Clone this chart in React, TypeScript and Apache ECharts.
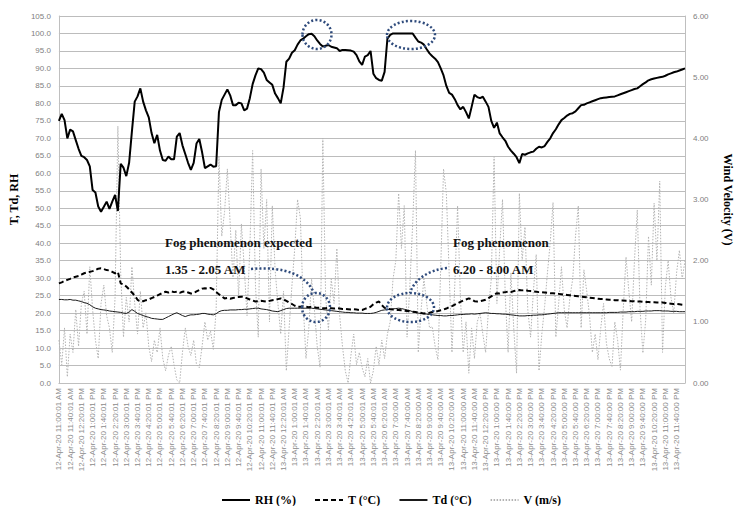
import { useEffect, useRef } from "react";
import * as echarts from "echarts";

// x-axis tick labels (one every 40 minutes); data is sampled every 10 minutes
const TICK_LABELS = [
  "12-Apr-20 11:00:01 AM", "12-Apr-20 11:40:01 AM", "12-Apr-20 12:20:01 PM", "12-Apr-20 1:00:01 PM",
  "12-Apr-20 1:40:01 PM", "12-Apr-20 2:20:01 PM", "12-Apr-20 3:00:01 PM", "12-Apr-20 3:40:01 PM",
  "12-Apr-20 4:20:01 PM", "12-Apr-20 5:00:01 PM", "12-Apr-20 5:40:01 PM", "12-Apr-20 6:20:01 PM",
  "12-Apr-20 7:00:01 PM", "12-Apr-20 7:40:01 PM", "12-Apr-20 8:20:01 PM", "12-Apr-20 9:00:01 PM",
  "12-Apr-20 9:40:01 PM", "12-Apr-20 10:20:01 PM", "12-Apr-20 11:00:01 PM", "12-Apr-20 11:40:01 PM",
  "13-Apr-20 12:20:01 AM", "13-Apr-20 1:00:01 AM", "13-Apr-20 1:40:01 AM", "13-Apr-20 2:20:01 AM",
  "13-Apr-20 3:00:01 AM", "13-Apr-20 3:40:01 AM", "13-Apr-20 4:20:01 AM", "13-Apr-20 5:00:01 AM",
  "13-Apr-20 5:40:01 AM", "13-Apr-20 6:20:01 AM", "13-Apr-20 7:00:00 AM", "13-Apr-20 7:40:00 AM",
  "13-Apr-20 8:20:00 AM", "13-Apr-20 9:00:00 AM", "13-Apr-20 9:40:00 AM", "13-Apr-20 10:20:00 AM",
  "13-Apr-20 11:00:00 AM", "13-Apr-20 11:40:00 AM", "13-Apr-20 12:20:00 PM", "13-Apr-20 1:00:00 PM",
  "13-Apr-20 1:40:00 PM", "13-Apr-20 2:20:00 PM", "13-Apr-20 3:00:00 PM", "13-Apr-20 3:40:00 PM",
  "13-Apr-20 4:20:00 PM", "13-Apr-20 5:00:00 PM", "13-Apr-20 5:40:00 PM", "13-Apr-20 6:20:00 PM",
  "13-Apr-20 7:00:00 PM", "13-Apr-20 7:40:00 PM", "13-Apr-20 8:20:00 PM", "13-Apr-20 9:00:00 PM",
  "13-Apr-20 9:40:00 PM", "13-Apr-20 10:20:00 PM", "13-Apr-20 11:00:00 PM", "13-Apr-20 11:40:00 PM",
];

const RH = [
  75, 77, 75.2, 70, 72.5, 72, 69.5, 67, 65, 64.6,
  63.8, 62, 55.2, 54.5, 50.5, 49, 50.4, 51.9, 49.8, 51.9,
  53.8, 49.2, 62.7, 61.6, 59.2, 63, 72, 80.5, 82, 84.3,
  80.5, 78, 76, 71.5, 68.6, 71, 66.5, 63.8, 63.6, 64.8,
  64, 64, 70.5, 71.5, 68, 65.5, 63, 61, 63, 68.5,
  69.8, 66, 61.5, 62, 62.5, 61.9, 62, 77.5, 81, 82.5,
  84, 82.3, 79.5, 79.5, 80.2, 80, 78, 78.5, 81.5, 85.5,
  88, 90, 89.8, 88.8, 86.7, 86, 85.3, 82.8, 81.5, 80,
  84.5, 91.9, 92.8, 94.5, 95.2, 96.8, 98, 98.5, 99.2, 99.8,
  99.9, 99.2, 98, 97, 96.3, 96.5, 96.7, 96.2, 96, 95.8,
  95, 95.3, 95.3, 95.2, 95.1, 94.8, 93.8, 92, 91, 93.4,
  93.8, 95, 88.5, 87.2, 86.7, 86.5, 89, 98.5, 99.6, 100,
  100, 100, 100, 100, 100, 100, 100, 98.8, 97.7, 97.4,
  96.8, 95.5, 94.3, 93.5, 92.8, 91.8, 90, 88, 85, 83,
  82.5, 81.2, 79.5, 78.3, 79, 77.5, 75.7, 79, 82.5, 81.8,
  81.5, 81.9, 80.5, 79, 75, 73, 74.5, 71.4, 70.3, 69.3,
  67.6, 66.5, 65.6, 64.6, 62.9, 65.5, 65.3, 65.7, 66, 66.2,
  67, 67.6, 67.4, 67.8, 69, 70, 71.5, 72.6, 74, 75.2,
  75.8, 76.5, 77, 77.2, 77.7, 78.6, 79.5, 79.6, 80, 80.3,
  80.6, 80.9, 81.2, 81.5, 81.6, 81.7, 81.8, 81.9, 82, 82.3,
  82.6, 82.9, 83.2, 83.5, 83.8, 84.1, 84.3, 84.9, 85.5, 86,
  86.6, 86.9, 87.1, 87.3, 87.5, 87.6, 87.9, 88.3, 88.6, 88.9,
  89.1, 89.4, 89.7, 90,
];

const T = [
  28.5, 28.8, 29.2, 29.5, 29.8, 30.2, 30.4, 30.6, 31.0, 31.4,
  31.6, 31.8, 32.0, 32.3, 32.7, 32.8, 32.6, 32.3, 32.2, 31.8,
  31.4, 31.8, 28.5, 28.2, 27.6, 26.8, 25.9, 25.0, 23.8, 23.3,
  23.4, 23.7, 23.9, 24.3, 24.6, 25.0, 25.4, 25.8, 26.1, 25.9,
  26.2, 26.0, 26.1, 25.8, 26.1, 26.2, 25.9, 25.6, 25.7, 26.2,
  26.6, 27.0, 27.1, 27.0, 27.2, 26.8, 26.0, 25.4, 24.8, 24.2,
  24.3, 24.1, 24.3, 24.5, 24.6, 24.7, 24.6, 24.2, 23.9, 23.6,
  23.3, 23.4, 23.5, 23.4, 23.3, 23.5, 23.7, 23.8, 24.0, 24.2,
  23.9, 23.5, 23.0, 22.6, 22.1, 21.8, 21.8, 21.9, 21.8, 21.7,
  21.8, 21.7, 21.5, 21.5, 21.4, 21.4, 21.5, 21.4, 21.3, 21.4,
  21.3, 21.2, 21.2, 21.1, 21.0, 21.1, 21.0, 20.9, 20.9, 21.2,
  21.5, 21.8, 22.5, 23.0, 23.3, 22.3, 21.5, 21.3, 21.1, 21.0,
  20.9, 20.9, 20.8, 20.7, 20.6, 20.5, 20.4, 20.3, 20.1, 20.0,
  19.9, 20.0, 20.1, 20.3, 20.4, 20.6, 20.8, 21.0, 21.3, 21.7,
  22.0, 22.4, 22.8, 23.2, 23.6, 23.9, 24.2, 23.9, 23.4, 23.3,
  23.4, 23.6, 23.8, 24.3, 24.8, 25.3, 25.7, 25.6, 25.9, 26.0,
  26.1, 26.0, 26.3, 26.5, 26.6, 26.5, 26.6, 26.4, 26.3, 26.2,
  26.1, 26.0, 26.0, 25.9, 25.8, 25.7, 25.7, 25.6, 25.5, 25.4,
  25.3, 25.2, 25.1, 25.0, 24.9, 24.8, 24.7, 24.6, 24.5, 24.4,
  24.3, 24.2, 24.1, 24.0, 24.0, 23.9, 23.8, 23.8, 23.7, 23.7,
  23.6, 23.6, 23.5, 23.5, 23.4, 23.4, 23.3, 23.3, 23.2, 23.2,
  23.2, 23.1, 23.1, 23.0, 23.0, 23.0, 22.9, 22.8, 22.7, 22.6,
  22.6, 22.5, 22.4, 22.3,
];

const TD = [
  23.9, 23.9, 23.8, 23.8, 23.9, 23.7, 23.7, 23.5, 23.3, 23.0,
  22.8, 22.4, 21.8, 21.4, 21.2, 21.0, 20.9, 20.8, 20.6, 20.5,
  20.4, 20.3, 20.2, 20.0, 19.9, 20.3, 21.0, 20.5, 19.9, 19.6,
  19.3, 19.0, 18.8, 18.5, 18.4, 18.3, 18.2, 18.2, 18.6, 19.0,
  19.4, 19.8, 20.1, 19.7, 19.3, 19.0, 19.3, 19.5, 19.5, 19.6,
  19.7, 19.9, 19.9, 19.7, 19.6, 19.5, 19.8, 20.4, 20.7, 20.8,
  20.8, 20.9, 20.9, 20.9, 21.0, 21.0, 21.1, 21.1, 21.2, 21.3,
  21.4, 21.4, 21.2, 21.1, 21.0, 20.8, 20.6, 20.5, 20.4, 20.7,
  21.0, 21.3, 21.4, 21.4, 21.4, 21.4, 21.4, 21.4, 21.4, 21.4,
  21.4, 21.3, 21.2, 21.1, 21.0, 20.9, 20.8, 20.7, 20.6, 20.5,
  20.4, 20.3, 20.2, 20.2, 20.1, 20.1, 20.0, 20.0, 20.0, 19.9,
  19.9, 19.9, 20.0, 20.2, 20.5, 20.8, 20.9, 21.0, 21.1, 21.2,
  21.3, 21.4, 21.3, 21.1, 20.9, 20.7, 20.4, 20.2, 20.0, 19.9,
  19.8, 19.7, 19.6, 19.5, 19.4, 19.3, 19.3, 19.2, 19.2, 19.3,
  19.3, 19.4, 19.5, 19.6, 19.6, 19.7, 19.7, 19.8, 19.7, 19.8,
  19.9, 20.0, 20.1, 20.0, 19.9, 19.9, 19.8, 19.8, 19.7, 19.7,
  19.6, 19.5, 19.4, 19.3, 19.2, 19.2, 19.2, 19.3, 19.3, 19.4,
  19.4, 19.5, 19.5, 19.6, 19.7, 19.8, 19.9, 20.0, 20.1, 20.1,
  20.1, 20.1, 20.1, 20.1, 20.1, 20.1, 20.1, 20.1, 20.1, 20.1,
  20.1, 20.1, 20.1, 20.1, 20.1, 20.1, 20.2, 20.2, 20.2, 20.2,
  20.3, 20.3, 20.3, 20.4, 20.4, 20.4, 20.5, 20.5, 20.5, 20.6,
  20.6, 20.6, 20.7, 20.7, 20.7, 20.6, 20.6, 20.6, 20.5, 20.5,
  20.5, 20.4, 20.4, 20.4,
];

const V = [
  0.7, 0.3, 0.9, 0.1, 0.8, 0.5, 1.2, 0.6, 1.3, 1.5,
  0.8, 1.9, 1.2, 0.7, 0.4, 1.3, 1.6, 1.1, 0.9, 0.5,
  1.4, 4.2, 1.8, 0.75, 1.4, 1.0, 1.9, 1.3, 0.8, 1.5,
  0.9, 1.15, 0.6, 0.35, 0.7, 0.5, 0.9, 0.4, 0.2, 0.45,
  0.6, 0.3, 0.05, 0.0, 0.5, 0.9, 0.6, 0.45, 0.7, 0.3,
  0.25, 0.6, 1.0, 0.7, 0.85, 0.55, 1.2, 3.7, 2.4, 2.8,
  3.5, 2.6, 1.7, 2.5, 1.4, 2.6, 1.9, 1.1, 2.2, 3.8,
  1.6, 0.75, 3.5, 2.2, 3.0, 1.0, 2.9, 1.85, 1.3, 0.8,
  1.5, 0.2, 0.9, 1.6, 2.2, 3.0, 2.7, 1.3, 0.4, 0.9,
  1.7, 1.2, 0.6, 0.26, 4.0, 1.4, 0.87, 1.7, 1.3, 2.2,
  1.1, 0.6, 0.2, 0.0, 0.45, 0.8, 0.3, 0.5, 0.25, 0.1,
  0.4, 0.0, 0.2, 0.6, 0.3, 0.7, 0.4, 0.8, 1.0, 1.7,
  2.0, 3.1, 2.2, 2.9, 0.75, 1.6, 2.6, 3.8, 0.5, 1.2,
  1.7, 1.3, 0.9, 0.92, 0.6, 0.38, 1.9, 3.5, 3.1, 1.8,
  0.5, 1.6, 2.9, 1.4, 0.5, 1.0, 0.16, 0.9, 0.4, 1.0,
  1.14, 0.8, 0.5, 1.2, 1.7, 3.7, 1.3, 2.2, 3.0, 1.4,
  0.5, 1.8, 0.9, 0.16, 3.1, 2.0, 2.55, 1.2, 0.75, 1.5,
  2.1, 0.2, 0.8, 1.25, 1.8, 2.3, 2.95, 0.75, 1.3, 1.9,
  1.2, 0.9, 1.4, 1.7, 2.4, 2.9, 0.9, 1.85, 1.5, 1.1,
  0.5, 0.8, 0.38, 0.9, 1.3, 0.65, 0.4, 0.26, 1.0, 0.7,
  0.21, 1.2, 2.06, 1.5, 1.0, 2.0, 2.83, 1.2, 0.49, 1.03,
  2.4, 1.6, 2.94, 2.0, 3.3, 0.5, 1.57, 2.0, 1.4, 1.14,
  1.8, 2.17, 1.7, 2.0,
];

const SERIES_NAMES = ["RH (%)", "T (°C)", "Td (°C)", "V (m/s)"];

// every tick label opens a block of four 10-minute steps
const CATEGORIES = TICK_LABELS.flatMap((l) => [l, `${l} +10min`, `${l} +20min`, `${l} +30min`]);

const SERIF = "'Liberation Serif', 'Times New Roman', serif";
const SANS = "'Liberation Sans', Arial, sans-serif";

export default function App() {
  const ref = useRef<HTMLDivElement>(null);

  useEffect(() => {
    const chart = echarts.init(ref.current!, null, { renderer: "svg" });
    const navy = "#2f4b7c";
    const dot = { stroke: navy, fill: "none", lineWidth: 2.5, lineDash: [2, 2.2] };
    const noteText = (text: string, x: number, y: number) => ({
      type: "text",
      x,
      y,
      z: 100,
      style: {
        text,
        fill: "#111",
        fontFamily: SERIF,
        fontWeight: "bold",
        fontSize: 13,
        verticalAlign: "middle",
      },
    });

    chart.setOption({
      animation: false,
      backgroundColor: "#ffffff",
      grid: { left: 58, right: 41, top: 16, bottom: 123, containLabel: false },
      legend: {
        data: SERIES_NAMES,
        left: 216,
        top: 489,
        itemWidth: 28,
        itemHeight: 10,
        itemGap: 18,
        itemStyle: { opacity: 0 },
        textStyle: { fontFamily: SERIF, fontWeight: "bold", fontSize: 12, color: "#000" },
      },
      xAxis: {
        type: "category",
        data: CATEGORIES,
        boundaryGap: false,
        axisLine: { show: true, lineStyle: { color: "#bfbfbf", width: 1 } },
        axisTick: { show: false },
        axisLabel: {
          interval: 3,
          rotate: 90,
          fontSize: 8,
          color: "#8c8c8c",
          fontFamily: SANS,
          margin: 5,
        },
        splitLine: { show: false },
      },
      yAxis: [
        {
          type: "value",
          min: 0,
          max: 105,
          interval: 5,
          axisLine: { show: true, lineStyle: { color: "#bfbfbf" } },
          axisTick: { show: false },
          axisLabel: {
            formatter: (v: number) => v.toFixed(1),
            fontSize: 8,
            color: "#808080",
            fontFamily: SANS,
            margin: 8,
          },
          splitLine: { show: true, lineStyle: { color: "#bcbcbc", width: 1 } },
          name: "T, Td, RH",
          nameLocation: "middle",
          nameGap: 29,
          nameTextStyle: { fontFamily: SERIF, fontWeight: "bold", fontSize: 12, color: "#000" },
        },
        {
          type: "value",
          position: "right",
          min: 0,
          max: 6,
          interval: 1,
          axisLine: { show: true, lineStyle: { color: "#bfbfbf" } },
          axisTick: { show: false },
          axisLabel: {
            formatter: (v: number) => v.toFixed(2),
            fontSize: 8,
            color: "#808080",
            fontFamily: SANS,
            margin: 8,
          },
          splitLine: { show: false },
          name: "Wind Velocity (V)",
          nameLocation: "middle",
          nameRotate: -90,
          nameGap: 37,
          nameTextStyle: { fontFamily: SERIF, fontWeight: "bold", fontSize: 12, color: "#000" },
        },
      ],
      series: [
        {
          name: SERIES_NAMES[0],
          type: "line",
          data: RH,
          symbol: "none",
          z: 4,
          itemStyle: { color: "#000" },
          lineStyle: { color: "#000", width: 2 },
        },
        {
          name: SERIES_NAMES[1],
          type: "line",
          data: T,
          symbol: "none",
          z: 4,
          itemStyle: { color: "#000" },
          lineStyle: { color: "#000", width: 2, type: [5, 3] },
        },
        {
          name: SERIES_NAMES[2],
          type: "line",
          data: TD,
          symbol: "none",
          z: 3,
          itemStyle: { color: "#1a1a1a" },
          lineStyle: { color: "#1a1a1a", width: 1 },
        },
        {
          name: SERIES_NAMES[3],
          type: "line",
          yAxisIndex: 1,
          data: V,
          symbol: "none",
          z: 1,
          itemStyle: { color: "#b3b3b3" },
          lineStyle: { color: "#b3b3b3", width: 1, type: [1.5, 1.5] },
        },
      ],
      graphic: [
        noteText("Fog phenomenon expected", 165, 242),
        noteText("1.35 - 2.05 AM", 165, 269),
        noteText("Fog phenomenon", 453, 242),
        noteText("6.20 - 8.00 AM", 453, 269),
        {
          type: "bezierCurve",
          z: 100,
          shape: { x1: 251, y1: 269, cpx1: 285, cpy1: 266, cpx2: 306, cpy2: 275, x2: 314, y2: 293 },
          style: dot,
        },
        {
          type: "bezierCurve",
          z: 100,
          shape: { x1: 447, y1: 268, cpx1: 428, cpy1: 270, cpx2: 414, cpy2: 280, x2: 410, y2: 293 },
          style: dot,
        },
        { type: "ellipse", z: 100, shape: { cx: 316, cy: 307.5, rx: 14, ry: 14.5 }, style: dot },
        { type: "ellipse", z: 100, shape: { cx: 410.5, cy: 307.5, rx: 23.5, ry: 14.5 }, style: dot },
        { type: "ellipse", z: 100, shape: { cx: 317, cy: 34.5, rx: 14.5, ry: 14.5 }, style: dot },
        { type: "ellipse", z: 100, shape: { cx: 411, cy: 35, rx: 24, ry: 14 }, style: dot },
      ],
    });

    return () => chart.dispose();
  }, []);

  return (
    <div
      ref={ref}
      style={{ position: "fixed", left: 0, top: 0, width: 742, height: 506, background: "#fff" }}
    />
  );
}
